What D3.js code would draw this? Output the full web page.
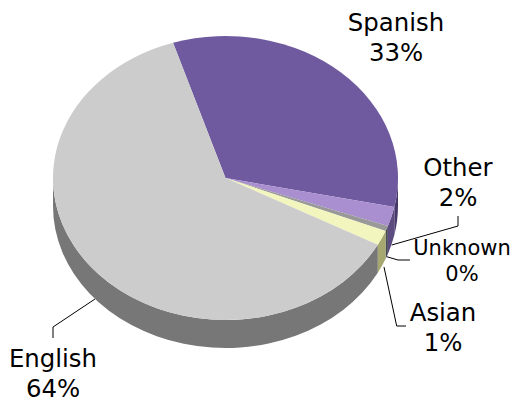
<!DOCTYPE html>
<html>
<head>
<meta charset="utf-8">
<script src="https://cdn.jsdelivr.net/npm/d3@7"></script>
<style>
  body { margin: 0; background: #fff; }
  text { font-family: "DejaVu Sans", sans-serif; fill: #000; }
</style>
</head>
<body>
<svg id="chart"></svg>
<script>
// slice sizes, labels as printed on it
const categories = ["Spanish", "Other", "Unknown", "Asian", "English"];
const shares = [33.2, 2.2, 0.6, 1.7, 62.3];
const percentLabels = ["33%", "2%", "0%", "1%", "64%"];
const topColors = ["#6f5a9f", "#a98fd0", "#999999", "#f2f5bd", "#cccccc"];
const wallColors = ["#47396a", "#5d4c80", "#4a4a55", "#a6a86f", "#777777"];

const width = 513, height = 402;
const cx = 225.5, cy = 178, rx = 172.5, ry = 142, depth = 28;
const k = ry / rx;
const startDeg = -17.7;

const svg = d3.select("#chart").attr("width", width).attr("height", height);

const pie = d3.pie().sort(null)
  .startAngle(startDeg * Math.PI / 180)
  .endAngle((startDeg + 360) * Math.PI / 180);
const slices = pie(shares);

// everything in the pie is drawn as a circle, then squashed into the ellipse
const g = svg.append("g").attr("transform", `translate(${cx},${cy}) scale(1,${k})`);

// d3.path angles start at 3 o'clock, d3.pie angles at 12 o'clock
const toPath = a => a - Math.PI / 2;

function wallPath(d) {
  // only the front half of the rim can be seen
  let lo = Math.max(d.startAngle, Math.PI / 2), hi = Math.min(d.endAngle, 3 * Math.PI / 2);
  if (hi <= lo) return null;
  const dz = depth / k;
  const p = d3.path();
  p.moveTo(rx * Math.cos(toPath(lo)), rx * Math.sin(toPath(lo)));
  p.arc(0, 0, rx, toPath(lo), toPath(hi), false);
  p.lineTo(rx * Math.cos(toPath(hi)), rx * Math.sin(toPath(hi)) + dz);
  p.arc(0, dz, rx, toPath(hi), toPath(lo), true);
  p.closePath();
  return p.toString();
}

g.selectAll(".wall")
  .data(slices)
  .join("path")
    .attr("class", "wall")
    .attr("d", wallPath)
    .attr("fill", (d, i) => wallColors[i]);

const arc = d3.arc().innerRadius(0).outerRadius(rx);
g.selectAll(".top")
  .data(slices)
  .join("path")
    .attr("class", "top")
    .attr("d", arc)
    .attr("fill", (d, i) => topColors[i]);

// leader lines
const leaders = [
  [[391.7, 245], [458, 226], [458, 216]],
  [[386.7, 256.7], [398, 260], [410, 260]],
  [[384, 267], [396.7, 326], [406, 326]],
  [[95, 299], [53, 327], [53, 338]]
];
const line = d3.line();
svg.selectAll(".leader")
  .data(leaders)
  .join("path")
    .attr("class", "leader")
    .attr("d", line)
    .attr("fill", "none")
    .attr("stroke", "#000")
    .attr("stroke-width", 1);

// labels, two lines each
const labelSpots = [
  { x: 396, y: 31, size: 24.4 },
  { x: 458, y: 176, size: 24.4 },
  { x: 462, y: 255, size: 21 },
  { x: 443, y: 321, size: 24.4 },
  { x: 53, y: 367, size: 24.4 }
];
const lineGap = [29.5, 29.5, 25.5, 29.5, 29.5];
const labels = svg.selectAll(".label")
  .data(categories)
  .join("text")
    .attr("class", "label")
    .attr("text-anchor", "middle")
    .style("font-size", (d, i) => labelSpots[i].size + "px");
labels.append("tspan")
  .attr("x", (d, i) => labelSpots[i].x)
  .attr("y", (d, i) => labelSpots[i].y)
  .text(d => d);
labels.append("tspan")
  .attr("x", (d, i) => labelSpots[i].x)
  .attr("y", (d, i) => labelSpots[i].y + lineGap[i])
  .text((d, i) => percentLabels[i]);
</script>
</body>
</html>
